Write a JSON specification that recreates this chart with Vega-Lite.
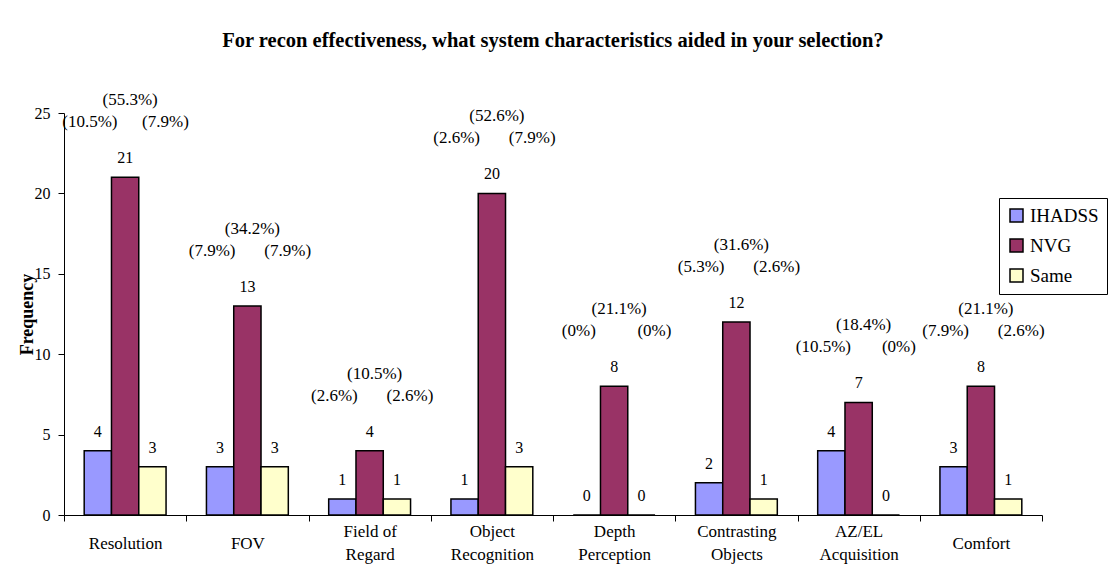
{
  "$schema": "https://vega.github.io/schema/vega-lite/v6.json",
  "autosize": {"type": "none"},
  "width": 978,
  "height": 402,
  "padding": {"left": 64, "top": 113, "right": 68, "bottom": 50},
  "background": "white",
  "title": {
    "text": "For recon effectiveness, what system characteristics aided in your selection?",
    "font": "Liberation Serif",
    "fontSize": 20.5,
    "fontWeight": "bold",
    "color": "black",
    "anchor": "middle",
    "offset": 40
  },
  "data": {
    "values": [
      {"cat": "Resolution", "series": "IHADSS", "count": 4, "pct": "(10.5%)"},
      {"cat": "Resolution", "series": "NVG", "count": 21, "pct": "(55.3%)"},
      {"cat": "Resolution", "series": "Same", "count": 3, "pct": "(7.9%)"},
      {"cat": "FOV", "series": "IHADSS", "count": 3, "pct": "(7.9%)"},
      {"cat": "FOV", "series": "NVG", "count": 13, "pct": "(34.2%)"},
      {"cat": "FOV", "series": "Same", "count": 3, "pct": "(7.9%)"},
      {"cat": "Field of Regard", "series": "IHADSS", "count": 1, "pct": "(2.6%)"},
      {"cat": "Field of Regard", "series": "NVG", "count": 4, "pct": "(10.5%)"},
      {"cat": "Field of Regard", "series": "Same", "count": 1, "pct": "(2.6%)"},
      {"cat": "Object Recognition", "series": "IHADSS", "count": 1, "pct": "(2.6%)"},
      {"cat": "Object Recognition", "series": "NVG", "count": 20, "pct": "(52.6%)"},
      {"cat": "Object Recognition", "series": "Same", "count": 3, "pct": "(7.9%)"},
      {"cat": "Depth Perception", "series": "IHADSS", "count": 0, "pct": "(0%)"},
      {"cat": "Depth Perception", "series": "NVG", "count": 8, "pct": "(21.1%)"},
      {"cat": "Depth Perception", "series": "Same", "count": 0, "pct": "(0%)"},
      {"cat": "Contrasting Objects", "series": "IHADSS", "count": 2, "pct": "(5.3%)"},
      {"cat": "Contrasting Objects", "series": "NVG", "count": 12, "pct": "(31.6%)"},
      {"cat": "Contrasting Objects", "series": "Same", "count": 1, "pct": "(2.6%)"},
      {"cat": "AZ/EL Acquisition", "series": "IHADSS", "count": 4, "pct": "(10.5%)"},
      {"cat": "AZ/EL Acquisition", "series": "NVG", "count": 7, "pct": "(18.4%)"},
      {"cat": "AZ/EL Acquisition", "series": "Same", "count": 0, "pct": "(0%)"},
      {"cat": "Comfort", "series": "IHADSS", "count": 3, "pct": "(7.9%)"},
      {"cat": "Comfort", "series": "NVG", "count": 8, "pct": "(21.1%)"},
      {"cat": "Comfort", "series": "Same", "count": 1, "pct": "(2.6%)"}
    ]
  },
  "transform": [
    {"calculate": "datum.series === 'NVG' ? datum.count : 0", "as": "nvgPart"},
    {"joinaggregate": [{"op": "max", "field": "nvgPart", "as": "nvg"}], "groupby": ["cat"]}
  ],
  "encoding": {
    "x": {
      "field": "cat",
      "type": "nominal",
      "sort": null,
      "scale": {"paddingInner": 0, "paddingOuter": 0},
      "axis": {
        "title": null,
        "labelAngle": 0,
        "labelFont": "Liberation Serif",
        "labelFontSize": 17,
        "labelColor": "black",
        "labelBaseline": {"condition": {"test": "isString(datum.value) && indexof(datum.value, ' ') >= 0", "value": "line-bottom"}, "value": "middle"},
        "labelLineHeight": 23,
        "labelPadding": 22,
        "tickSize": 6,
        "tickColor": "black",
        "tickBand": "extent",
        "domainColor": "black",
        "grid": false,
        "labelExpr": "lastindexof(datum.label, ' ') > 0 ? [substring(datum.label, 0, lastindexof(datum.label, ' ')), substring(datum.label, lastindexof(datum.label, ' ') + 1)] : datum.label"
      }
    },
    "xOffset": {
      "field": "series",
      "type": "nominal",
      "scale": {"paddingInner": 0, "paddingOuter": 0.74}
    }
  },
  "layer": [
    {
      "mark": {"type": "bar", "stroke": "black", "strokeWidth": 1.5},
      "encoding": {
        "y": {
          "field": "count",
          "type": "quantitative",
          "scale": {"domain": [0, 25], "nice": false},
          "axis": {
            "values": [0, 5, 10, 15, 20, 25],
            "title": "Frequency",
            "titleFont": "Liberation Serif",
            "titleFontSize": 18,
            "titleFontWeight": "bold",
            "titleColor": "black",
            "titleAngle": 270,
            "titleX": -37,
            "titleY": 201,
            "titleAlign": "center",
            "titleBaseline": "middle",
            "labelFont": "Liberation Serif",
            "labelFontSize": 16,
            "labelColor": "black",
            "labelPadding": 8,
            "tickSize": 6,
            "tickColor": "black",
            "domainColor": "black",
            "grid": false
          }
        },
        "fill": {
          "field": "series",
          "type": "nominal",
          "scale": {"domain": ["IHADSS", "NVG", "Same"], "range": ["#9999FF", "#993366", "#FFFFCC"]},
          "legend": {
            "title": null,
            "orient": "none",
            "legendX": 935,
            "legendY": 85,
            "strokeColor": "black",
            "fillColor": "white",
            "padding": 8,
            "symbolType": "square",
            "symbolSize": 169,
            "symbolStrokeColor": "black",
            "symbolStrokeWidth": 1.5,
            "labelFont": "Liberation Serif",
            "labelFontSize": 19,
            "labelColor": "black",
            "labelOffset": 4,
            "rowPadding": 10
          }
        }
      }
    },
    {
      "mark": {"type": "text", "font": "Liberation Serif", "fontSize": 16, "color": "black", "baseline": "middle", "dy": -19},
      "encoding": {
        "y": {"field": "count", "type": "quantitative"},
        "text": {"field": "count", "type": "quantitative"}
      }
    },
    {
      "transform": [{"filter": "datum.series === 'NVG'"}],
      "mark": {"type": "text", "font": "Liberation Serif", "fontSize": 17, "color": "black", "baseline": "middle", "dy": -77, "dx": 5},
      "encoding": {
        "y": {"field": "nvg", "type": "quantitative"},
        "text": {"field": "pct"}
      }
    },
    {
      "transform": [{"filter": "datum.series === 'IHADSS'"}],
      "mark": {"type": "text", "font": "Liberation Serif", "fontSize": 17, "color": "black", "baseline": "middle", "dy": -55, "dx": -8},
      "encoding": {
        "y": {"field": "nvg", "type": "quantitative"},
        "text": {"field": "pct"}
      }
    },
    {
      "transform": [{"filter": "datum.series === 'Same'"}],
      "mark": {"type": "text", "font": "Liberation Serif", "fontSize": 17, "color": "black", "baseline": "middle", "dy": -55, "dx": 13},
      "encoding": {
        "y": {"field": "nvg", "type": "quantitative"},
        "text": {"field": "pct"}
      }
    }
  ],
  "config": {
    "view": {"stroke": null}
  }
}
